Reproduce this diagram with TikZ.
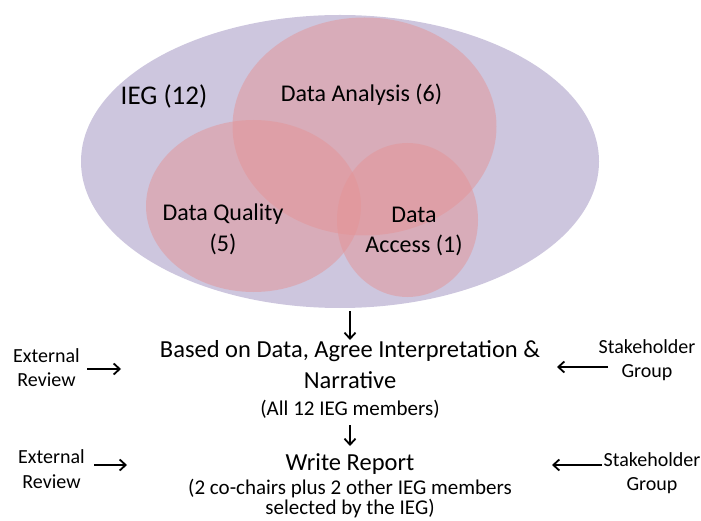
\documentclass[tikz,border=0pt]{standalone}
\usepackage{fontspec}
\setmainfont{Carlito}
\usetikzlibrary{arrows.meta}
\definecolor{ieg}{RGB}{205,198,222}
\definecolor{grp}{RGB}{228,148,150}
\tikzset{
  setfill/.style={fill=grp, fill opacity=0.5, draw=none},
  arr/.style={-{Straight Barb[length=6pt,width=11pt,line width=1.8pt]}, line width=2.2pt, black},
  lbl/.style={anchor=base, inner sep=0pt},
  big/.style={lbl, font=\fontsize{24.5}{28}\selectfont},
  inset/.style={lbl, font=\fontsize{24}{28}\selectfont},
  small/.style={lbl, font=\fontsize{21}{24}\selectfont},
  side/.style={lbl, font=\fontsize{20}{24}\selectfont},
}
\begin{document}
\begin{tikzpicture}[x=1pt,y=-1pt]
\useasboundingbox (0,0) rectangle (701,521);

% group sets
\fill[ieg] (340,161.5) ellipse [x radius=259, y radius=146.5];
\fill[setfill] (364.5,126.5) ellipse [x radius=132, y radius=109];
\fill[setfill] (253.5,206) ellipse [x radius=107.5, y radius=86];
\fill[setfill] (407.5,220) ellipse [x radius=70.5, y radius=77];

\node[lbl, font=\fontsize{27}{30}\selectfont] (iegl) at (164,105) {IEG (12)};
\node[inset] (ana) at (361.5,102) {Data Analysis (6)};
\node[inset] (qual1) at (223,221) {Data Quality};
\node[inset] (qual2) at (223,252) {(5)};
\node[inset] (acc1) at (414,223) {Data};
\node[inset] (acc2) at (414,253) {Access (1)};

% agreement step
\coordinate (top) at (350,311);
\coordinate (top2) at (350,340);
\node[big] (b1) at (350,357) {Based on Data, Agree Interpretation \&};
\node[big] (b2) at (350,388) {Narrative};
\node[small] (b3) at (350,415) {(All 12 IEG members)};
\draw[arr] (top) -- (top2);

% report step
\coordinate (m1) at (350,425);
\coordinate (m2) at (350,446);
\node[big] (w1) at (350,470) {Write Report};
\node[small] (w2) at (350,494) {(2 co-chairs plus 2 other IEG members};
\node[small] (w3) at (350,514) {selected by the IEG)};
\draw[arr] (m1) -- (m2);

% outside inputs
\node[side] (ext1a) at (46.5,362) {External};
\node[side] (ext1b) at (46.5,386) {Review};
\node[side] (stk1a) at (647,353) {Stakeholder};
\node[side] (stk1b) at (647,377) {Group};
\node[side] (ext2a) at (51.5,463) {External};
\node[side] (ext2b) at (51.5,488) {Review};
\node[side] (stk2a) at (652,466) {Stakeholder};
\node[side] (stk2b) at (652,490) {Group};
\coordinate (e1a) at (87,369);
\coordinate (e1) at (121,369);
\coordinate (s1a) at (608,367);
\coordinate (s1) at (557,367);
\coordinate (e2a) at (94,465);
\coordinate (e2) at (127,465);
\coordinate (s2a) at (602,465);
\coordinate (s2) at (552,465);
\draw[arr] (e1a) -- (e1);
\draw[arr] (s1a) -- (s1);
\draw[arr] (e2a) -- (e2);
\draw[arr] (s2a) -- (s2);
\end{tikzpicture}
\end{document}
